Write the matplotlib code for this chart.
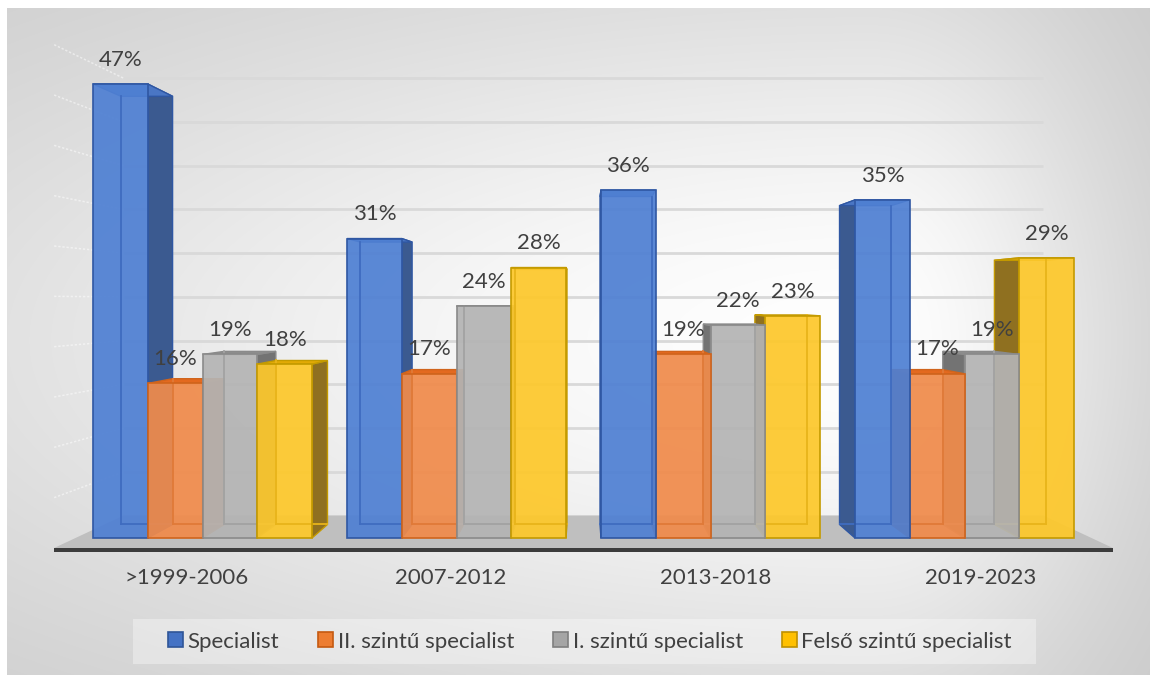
import numpy as np
import matplotlib
matplotlib.use("Agg")
import matplotlib.pyplot as plt
from matplotlib.patches import Polygon, Rectangle, Patch

# ---- data -------------------------------------------------------------
periods = [">1999-2006", "2007-2012", "2013-2018", "2019-2023"]
series_names = ["Specialist", "II. szintű specialist",
                "I. szintű specialist", "Felső szintű specialist"]
specialist = [47, 31, 36, 35]
level_two = [16, 17, 19, 17]
level_one = [19, 24, 22, 19]
senior = [18, 28, 23, 29]
series_values = [specialist, level_two, level_one, senior]
grid_values = list(range(5, 55, 5))

# ---- style ------------------------------------------------------------
FRONT = ["#4f80d3", "#f08b4b", "#b4b4b4", "#fdc82b"]
TOP = ["#4a76c4", "#e3691f", "#8e8e8e", "#e2aa05"]
SIDE = ["#3b5a90", "#c2601c", "#737373", "#8f7020"]
EDGE = ["#2f57a3", "#d0641c", "#8a8a8a", "#c49a00"]
INNER = ["#3f6cc0", "#e07a38", "#a2a2a2", "#e8b41a"]
LEGEND_FILL = ["#4472C4", "#ED7D31", "#A5A5A5", "#FFC000"]
LEGEND_EDGE = ["#2f5597", "#c55a11", "#7f7f7f", "#bf9000"]
TEXT = "#404040"
FONT = ["Lato", "DejaVu Sans"]

W, H = 1150, 675
fig = plt.figure(figsize=(W / 100, H / 100), dpi=100)
fig.patch.set_facecolor("white")

# soft radial background
bg = fig.add_axes([7 / W, 0, (W - 7) / W, (H - 8) / H], zorder=-2)
X, Y = np.meshgrid(np.arange(7, W), np.arange(8, H))
cx, cy = 870.0, 340.0
rx = np.where(X < cx, 1150.0, 290.0)
ry = np.where(Y < cy, 420.0, 420.0)
r2 = ((X - cx) / rx) ** 2 + ((Y - cy) / ry) ** 2
shade = (197 + 57 * np.exp(-1.2 * r2)) / 255.0
bg.imshow(np.dstack([shade] * 3), aspect="auto", interpolation="bilinear")
bg.axis("off")

# main axes: x in category units, y in percent on the front plane
ax = fig.add_axes([0, 0, 1, 1], zorder=0)
ax.set_facecolor("none")
ax.set_xlim(-202.5 / 254, (W - 202.5) / 254)
ax.set_ylim((538 - H) / 9.66, 538 / 9.66)
ax.axis("off")

# simple one-point perspective
VX, VY = 1.5, 24.6
S_WALL, S_BAR, S_FLOOR = 0.905, 0.943, 1.042
BOX_L, BOX_R = -0.5, 3.5


def proj(x, y, s):
    return VX + s * (x - VX), VY + s * (y - VY)


def poly(points, **kw):
    ax.add_patch(Polygon(points, closed=True, **kw))


# floor slab
fl, fr = proj(BOX_L, 0, S_FLOOR), proj(BOX_R, 0, S_FLOOR)
bl, br = proj(BOX_L, 0, S_WALL), proj(BOX_R, 0, S_WALL)
poly([bl, br, fr, fl], facecolor="#bfbfbf", edgecolor="none", zorder=1)
band = 0.45
poly([fl, fr, (fr[0], fr[1] - band), (fl[0], fl[1] - band)],
     facecolor="#3c3c3c", edgecolor="none", zorder=1)

# back-wall and side-wall gridlines
for g in grid_values:
    a, b = proj(BOX_L, g, S_WALL), proj(BOX_R, g, S_WALL)
    ax.plot([a[0], b[0]], [a[1], b[1]], color="#d9d9d9", lw=2.0,
            solid_capstyle="butt", zorder=1)
    c = proj(BOX_L, g, S_FLOOR)
    ax.plot([c[0], a[0]], [c[1], a[1]], color="white", lw=1.1, alpha=0.5,
            ls=(0, (1.5, 1.2)), zorder=1)

# bars
bw = 0.8622 / 4
bars = []
for si, vals in enumerate(series_values):
    for gi, v in enumerate(vals):
        x0 = gi + (si - 2) * bw
        bars.append((x0, x0 + bw, v, si))
bars.sort(key=lambda b: -abs((b[0] + b[1]) / 2 - VX))

for k, (x0, x1, v, si) in enumerate(bars):
    z = 2 + k * 0.01
    B = lambda x, y: proj(x, y, S_BAR)
    if x1 <= VX:
        poly([(x1, 0), (x1, v), B(x1, v), B(x1, 0)], facecolor=SIDE[si],
             edgecolor=EDGE[si], lw=1.0, zorder=z)
    elif x0 >= VX:
        poly([(x0, 0), (x0, v), B(x0, v), B(x0, 0)], facecolor=SIDE[si],
             edgecolor=EDGE[si], lw=1.0, zorder=z)
    poly([(x0, v), (x1, v), B(x1, v), B(x0, v)], facecolor=TOP[si],
         edgecolor=EDGE[si], lw=1.0, zorder=z)
    poly([(x0, 0), (x1, 0), (x1, v), (x0, v)], facecolor=FRONT[si],
         alpha=0.93, edgecolor="none", zorder=z)
    # back edges seen through the glassy front
    bx = B(x0, 0)[0] if x1 <= VX else B(x1, 0)[0]
    ax.plot([bx, bx], [B(x0, 0)[1], B(x0, v)[1]], color=INNER[si], lw=1.3,
            zorder=z)
    ax.plot([B(x0, 0)[0], B(x1, 0)[0]], [B(x0, 0)[1]] * 2, color=INNER[si],
            lw=1.3, zorder=z)
    poly([(x0, 0), (x1, 0), (x1, v), (x0, v)], facecolor="none",
         edgecolor=EDGE[si], lw=1.2, zorder=z)
    ax.annotate(f"{v}%", xy=((x0 + x1) / 2, v), xytext=(0, 17.5),
                textcoords="offset points", ha="center", va="center",
                fontsize=16, color=TEXT, family=FONT, zorder=5)

# category labels along the floor front
for gi, name in enumerate(periods):
    px, py = proj(gi, 0, S_FLOOR)
    ax.annotate(name, xy=(px, py), xytext=(0, -21.5),
                textcoords="offset points", ha="center", va="center",
                fontsize=16, color=TEXT, family=FONT, zorder=5)

# legend
fig.patches.append(Rectangle((133 / W, 1 - 664 / H), 903 / W, 45 / H,
                             transform=fig.transFigure, facecolor="white",
                             alpha=0.35, edgecolor="none", zorder=1))
handles = [Patch(facecolor=LEGEND_FILL[i], edgecolor=LEGEND_EDGE[i], lw=1.2,
                 label=series_names[i]) for i in range(4)]
leg = fig.legend(handles=handles, loc="center",
                 bbox_to_anchor=(590 / W, 1 - 641.5 / H), ncol=4,
                 frameon=False, handlelength=0.68,
                 handleheight=0.63, handletextpad=0.2, columnspacing=1.75,
                 prop={"family": FONT, "size": 16})
for t in leg.get_texts():
    t.set_color(TEXT)

fig.savefig("out.png", dpi=100)
